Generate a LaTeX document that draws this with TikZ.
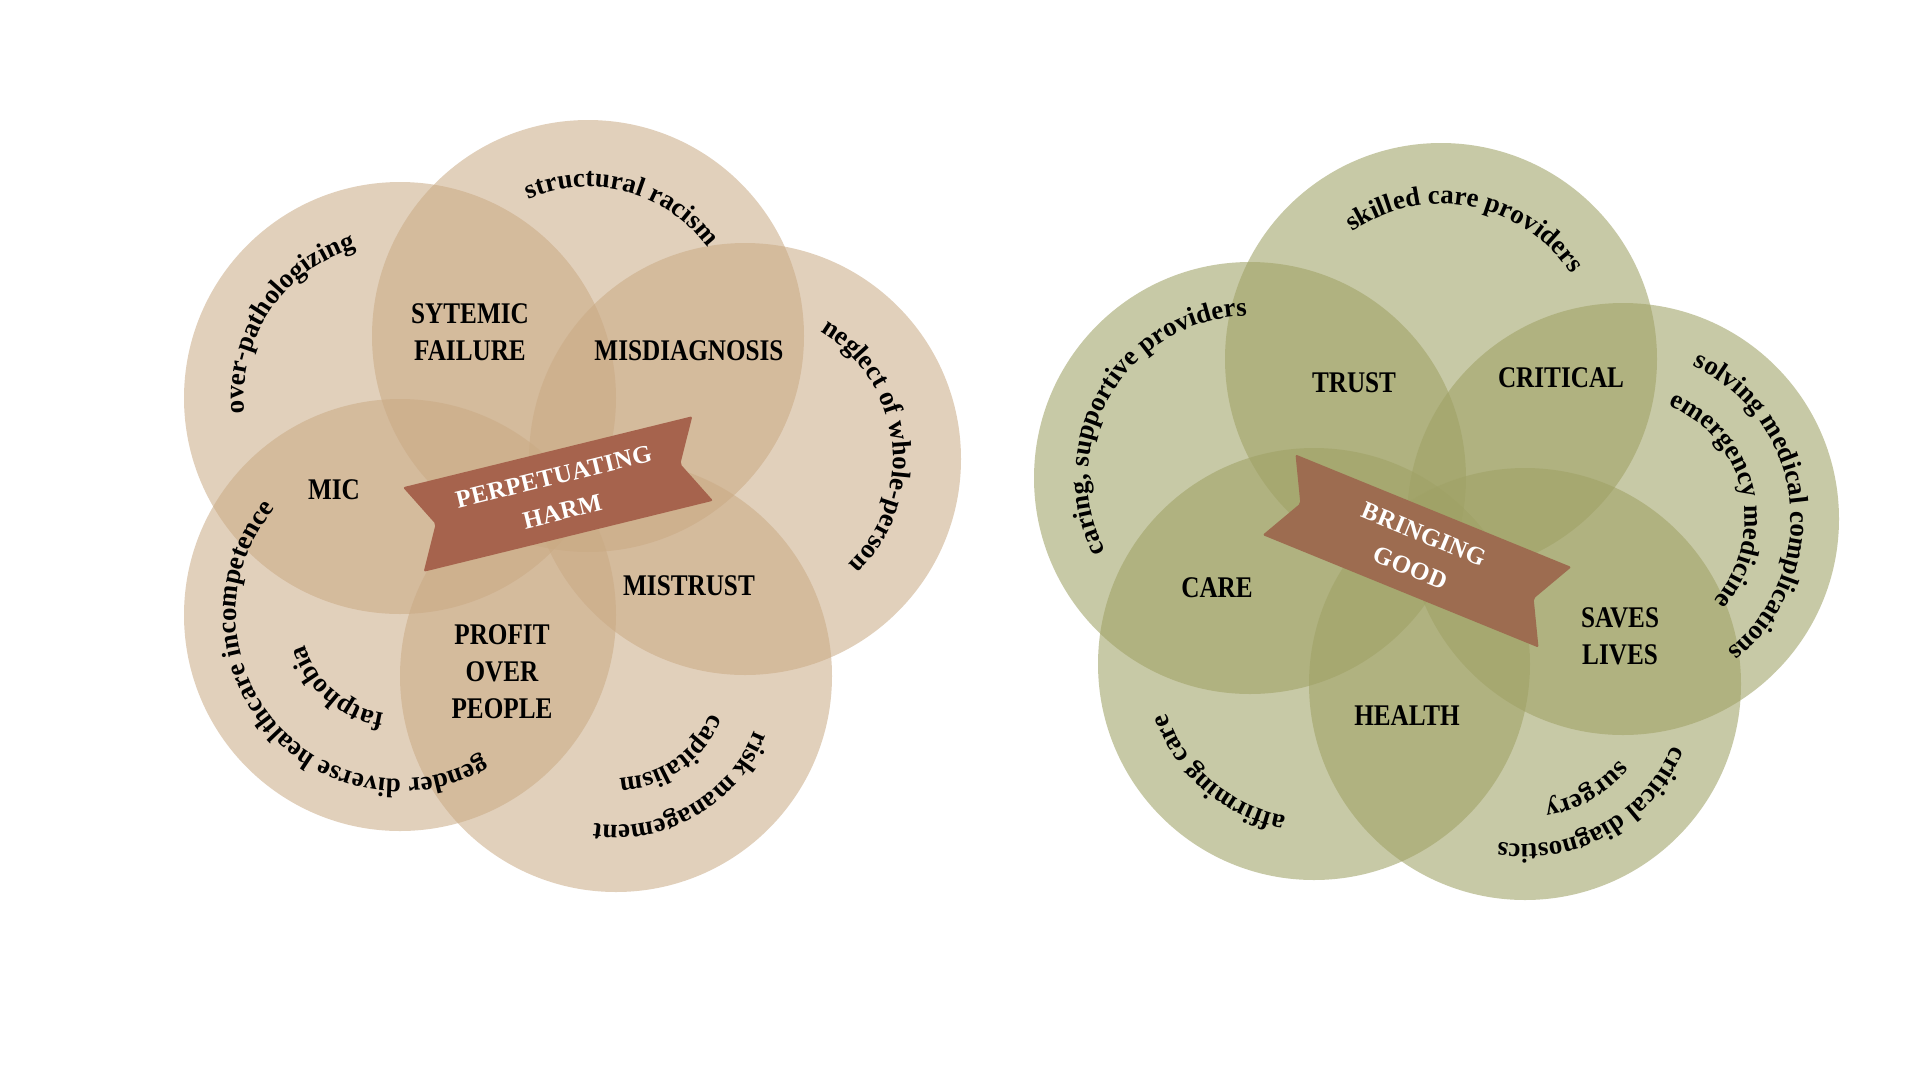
\documentclass[tikz,border=0pt]{standalone}
\usepackage{fontspec}
\setmainfont{Liberation Serif}
\newfontfamily\labelfont{Liberation Serif}[FakeStretch=0.84]
\newfontfamily\bandfont{Liberation Serif}[LetterSpace=1.5]
\usetikzlibrary{decorations.text}

\definecolor{harmtan}{HTML}{CAAA84}
\definecolor{goodolive}{HTML}{A0A266}
\definecolor{harmred}{HTML}{A6634D}
\definecolor{goodbrown}{HTML}{9D6C50}

\newcommand{\curvestyle}{\bfseries\fontsize{27}{30}\selectfont}

% text bent round a circle, read clockwise, centred on the given angle
\newcommand{\arctext}[4]{%
  \path[decorate, decoration={text along path, text align=center,
      text={|\curvestyle|#4}}]
    (#1) ++(#3+90:#2) arc[start angle=#3+90, end angle=#3-90, radius=#2];}

\tikzset{
  harmdisc/.style={fill=harmtan, fill opacity=0.55},
  gooddisc/.style={fill=goodolive, fill opacity=0.58},
  zone/.style={font=\labelfont\bfseries\fontsize{30}{37}\selectfont,
    align=center, inner sep=0pt, text=black},
  bandtext/.style={font=\bandfont\bfseries\fontsize{25}{36}\selectfont,
    align=center, inner sep=0pt, text=white, transform shape}
}

\begin{document}
\begin{tikzpicture}[x=1pt, y=1pt]
  \useasboundingbox (0,0) rectangle (1920,-1080);
  \fill[white] (0,0) rectangle (1920,-1080);

  % Centres of the five discs on the left
  \coordinate (hA) at (400,-398);
  \coordinate (hB) at (588,-336);
  \coordinate (hC) at (745,-459);
  \coordinate (hD) at (616,-676);
  \coordinate (hE) at (400,-615);

  % Centres of the five discs on the right
  \coordinate (gA) at (1441,-359);
  \coordinate (gB) at (1250,-478);
  \coordinate (gC) at (1623,-519);
  \coordinate (gD) at (1314,-664);
  \coordinate (gE) at (1525,-684);

  % Draw the discs
  \foreach \c in {hA,hB,hC,hD,hE}
    \fill[harmdisc] (\c) circle (216);
  \foreach \c in {gA,gB,gC,gD,gE}
    \fill[gooddisc] (\c) circle (216);

  % Bent texts round the edges
  \arctext{hA}{156}{146}{over-pathologizing}
  \arctext{hB}{149}{75}{structural racism}
  \arctext{hC}{148}{7}{neglect of whole-person}
  \arctext{hE}{164}{-140}{gender diverse healthcare incompetence}
  \arctext{hE}{100}{-131}{fatphobia}
  \arctext{hD}{149}{-60}{risk management}
  \arctext{hD}{102}{-55}{capitalism}

  \arctext{gA}{155}{79}{skilled care providers}
  \arctext{gB}{162}{149}{caring, supportive providers}
  \arctext{gC}{168}{7}{solving medical complications}
  \arctext{gC}{122}{13}{emergency medicine}
  \arctext{gD}{155}{-131}{affirming care}
  \arctext{gE}{160}{-61}{critical diagnostics}
  \arctext{gE}{121}{-60}{surgery}

  % Label the overlaps
  \node[zone] (sytemic) at (470,-332) {SYTEMIC\\FAILURE};
  \node[zone] (misdiag) at (689,-351) {MISDIAGNOSIS};
  \node[zone] (mic) at (334,-490) {MIC};
  \node[zone] (mistrust) at (689,-586) {MISTRUST};
  \node[zone] (profit) at (502,-672) {PROFIT\\OVER\\PEOPLE};

  \node[zone] (trust) at (1354,-383) {TRUST};
  \node[zone] (critical) at (1561,-378) {CRITICAL};
  \node[zone] (care) at (1217,-588) {CARE};
  \node[zone] (saves) at (1620,-636) {SAVES\\LIVES};
  \node[zone] (health) at (1407,-716) {HEALTH};

  % Ribbon in the middle of the left flower
  \begin{scope}[shift={(558,-494)}, rotate=13.8]
    \fill[harmred, rounded corners=2] (-149,43.5) -- (149,43.5) -- (126,0)
      -- (149,-43.5) -- (-149,-43.5) -- (-126,0) -- cycle;
    \node[bandtext] (harm) at (0,0) {PERPETUATING\\HARM};
  \end{scope}

  % Ribbon in the middle of the right flower
  \begin{scope}[shift={(1417,-551)}, rotate=-22.2]
    \fill[goodbrown, rounded corners=2] (-149,43.5) -- (149,43.5) -- (126,0)
      -- (149,-43.5) -- (-149,-43.5) -- (-126,0) -- cycle;
    \node[bandtext] (good) at (0,0) {BRINGING\\GOOD};
  \end{scope}
\end{tikzpicture}
\end{document}
